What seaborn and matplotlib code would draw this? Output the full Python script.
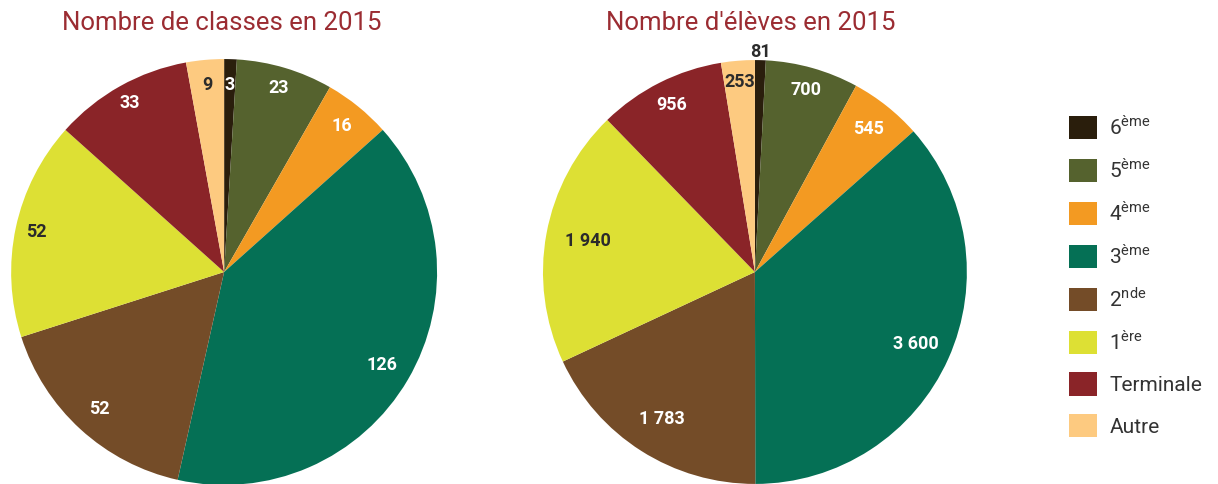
import numpy as np
import matplotlib
matplotlib.use("Agg")
import matplotlib.pyplot as plt
import seaborn as sns

# data
niveaux = ["6ème", "5ème", "4ème", "3ème", "2nde", "1ère", "Terminale", "Autre"]
legend_labels = ["6$^{\\mathregular{ème}}$", "5$^{\\mathregular{ème}}$", "4$^{\\mathregular{ème}}$",
                 "3$^{\\mathregular{ème}}$", "2$^{\\mathregular{nde}}$", "1$^{\\mathregular{ère}}$",
                 "Terminale", "Autre"]
classes_2015 = [3, 23, 16, 126, 52, 52, 33, 9]
eleves_2015 = [81, 700, 545, 3600, 1783, 1940, 956, 253]
eleves_txt = ["81", "700", "545", "3 600", "1 783", "1 940", "956", "253"]
colors = ["#2a1e0c", "#55622e", "#f39a22", "#057055", "#744c28", "#dde034", "#8a2428", "#fdca80"]

sns.set_theme(style="white")
plt.rcParams["font.family"] = ["Roboto", "DejaVu Sans"]
palette = sns.color_palette(colors)

dark_txt = "#2b2b2b"
txt_colors = ["white", "white", "white", "white", "white", dark_txt, "white", dark_txt]

fig = plt.figure(figsize=(12.18, 4.84), dpi=100)
ax1 = fig.add_axes([0.009, -0.002, 0.35, 0.88])
ax2 = fig.add_axes([0.4458, 0.0, 0.348, 0.876])


def draw_pie(ax, values, texts, radii, tcolors):
    wedges, _ = ax.pie(values, colors=palette, startangle=90, counterclock=False,
                       radius=1.0, wedgeprops=dict(linewidth=0))
    for w, t, r, c in zip(wedges, texts, radii, tcolors):
        ang = np.deg2rad((w.theta1 + w.theta2) / 2)
        ax.text(r * np.cos(ang), r * np.sin(ang), t, ha="center", va="center",
                color=c, fontsize=13, fontweight="bold")
    ax.set_xlim(-1, 1)
    ax.set_ylim(-1, 1)
    ax.set_aspect("equal")
    ax.axis("off")
    return wedges


c1 = list(txt_colors)
c1[0] = "white"
draw_pie(ax1, classes_2015, [str(v) for v in classes_2015],
         [0.88, 0.9, 0.88, 0.86, 0.87, 0.9, 0.91, 0.88], c1)
c2 = list(txt_colors)
c2[0] = dark_txt
wedges = draw_pie(ax2, eleves_2015, eleves_txt,
                  [1.04, 0.89, 0.86, 0.83, 0.82, 0.8, 0.88, 0.9], c2)

title_color = "#9b2c32"
fig.text(0.182, 0.952, "Nombre de classes en 2015", ha="center", va="center",
         fontsize=18.5, color=title_color)
fig.text(0.616, 0.952, "Nombre d'élèves en 2015", ha="center", va="center",
         fontsize=18.5, color=title_color)

fig.legend(wedges, legend_labels, loc="center left", bbox_to_anchor=(0.862, 0.43),
           frameon=False, fontsize=15, handlelength=1.35, handleheight=1.35,
           labelspacing=0.88, handletextpad=0.6, labelcolor="#333333")

fig.savefig("out.png", dpi=100)
